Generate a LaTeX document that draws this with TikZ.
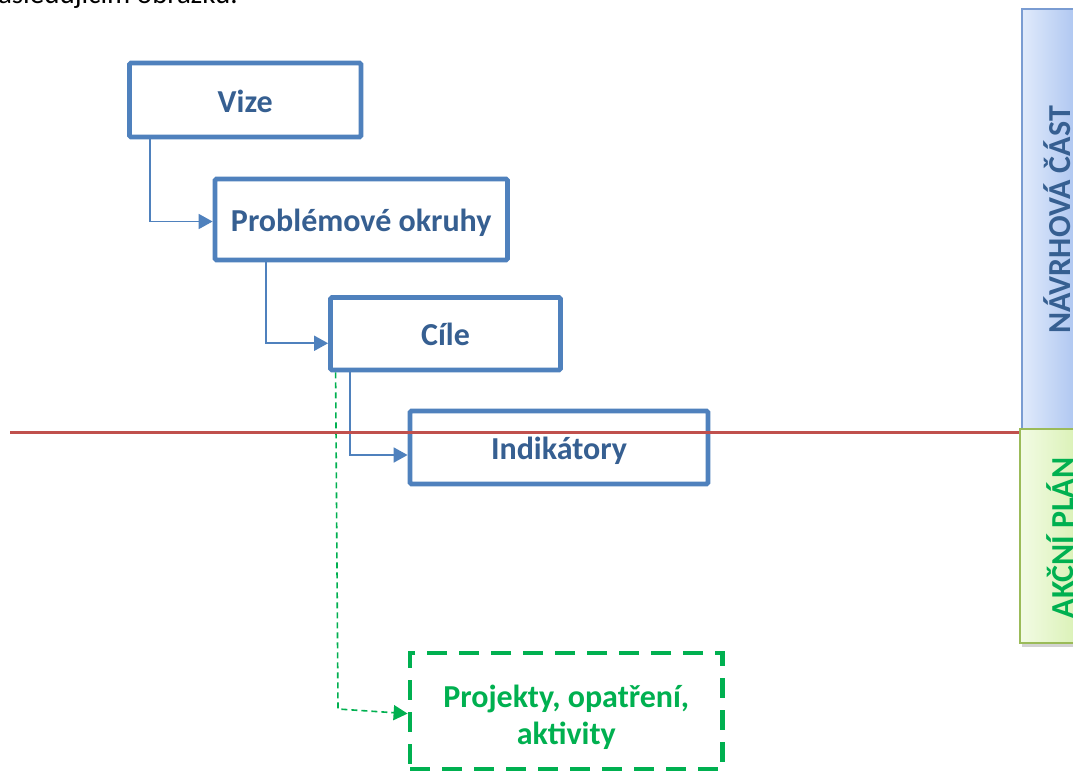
\documentclass[tikz,border=0pt]{standalone}
\usepackage{fontspec}
\setmainfont{Carlito}
\usetikzlibrary{arrows.meta,calc,shadows}
\definecolor{boxblue}{HTML}{4F81BD}
\definecolor{textblue}{HTML}{365F91}
\definecolor{redline}{HTML}{C0504D}
\definecolor{mygreen}{HTML}{00B050}
\definecolor{navborder}{HTML}{7A9CD2}
\definecolor{navleft}{HTML}{E0EAFB}
\definecolor{navright}{HTML}{A0BCEE}
\definecolor{akborder}{HTML}{9BBB59}
\definecolor{akleft}{HTML}{F2FBE4}
\definecolor{akright}{HTML}{D4EFAA}
\begin{document}
\begin{tikzpicture}[x=1pt,y=-1pt,
  lbl/.style={font=\fontsize{32}{37}\selectfont\bfseries},
  box/.style={lbl, draw=boxblue, line width=4.8pt, rounded corners=1.5pt, fill=white, inner sep=0pt, text=textblue, align=center, text height=28pt, text depth=4pt},
  dbox/.style={draw=mygreen, line width=4.8pt, dash pattern=on 20pt off 12pt, fill=white, inner sep=0pt},
  conn/.style={draw=boxblue, line width=1.8pt, -{Triangle[length=14pt,width=15pt]}},
  dconn/.style={draw=mygreen, line width=1.6pt, dash pattern=on 6pt off 4pt, -{Triangle[length=14pt,width=15pt]}},
  sidebar/.style={line width=2pt, inner sep=0pt, anchor=north west, drop shadow={shadow xshift=2pt, shadow yshift=-4pt, opacity=0.35}},
  sidetext/.style={lbl, rotate=90, anchor=base}
]
\useasboundingbox (0,0) rectangle (1073,772);
\clip (0,0) rectangle (1073,772);
\fill[white] (0,0) rectangle (1073,772);

% cropped intro text
\node[anchor=base east, inner sep=0pt, font=\fontsize{29}{34}\selectfont] (intro) at (238,3) {následujícím obrázku.};

% side bars
\node[sidebar, draw=navborder, left color=navleft, right color=navright,
      minimum width=70pt, minimum height=420pt] (nav) at (1021,8) {};
\node[sidebar, draw=akborder, left color=akleft, right color=akright,
      minimum width=72pt, minimum height=214pt] (akce) at (1019,428) {};
\node[sidetext, text=textblue] (navt) at (1070,220) {NÁVRHOVÁ ČÁST};
\node[sidetext, text=mygreen] (akcet) at (1073,538) {AKČNÍ PLÁN};

% boxes
\node[box, minimum width=231.5pt, minimum height=74pt] (vize) at (245.25,100) {Vize};
\node[box, minimum width=292.5pt, minimum height=81pt] (po) at (361.25,219.5) {Problémové okruhy};
\node[box, minimum width=230pt, minimum height=72.5pt] (cile) at (445.5,333.75) {Cíle};
\node[box, minimum width=298pt, minimum height=73pt] (ind) at (559,447.5) {Indikátory};
\node[dbox, minimum width=312.5pt, minimum height=116pt] (proj) at (566.25,711) {};
\node[lbl, text=mygreen, align=center] (projt) at ($(proj.center)+(0,6)$) {Projekty, opatření,\\aktivity};

% connectors
\draw[conn] ($(vize.south west)+(22.5,0)$) |- ($(po.west)+(0,2)$);
\draw[conn] ($(po.south west)+(53.5,0)$) |- ($(cile.west)+(0,9.5)$);
\draw[conn] ($(cile.south west)+(21.5,0)$) |- ($(ind.west)+(0,7.5)$);
\coordinate (dA) at ($(cile.south west)+(7.5,0)$);
\coordinate (dB) at (338,709);
\coordinate (dC) at ($(proj.north west)+(0,63)$);
\draw[dconn] (dA) -- (dB) -- (dC);

% red divider
\coordinate (redL) at (10,432);
\draw[redline, line width=3pt] (redL) -- (redL -| akce.west);
\end{tikzpicture}
\end{document}
